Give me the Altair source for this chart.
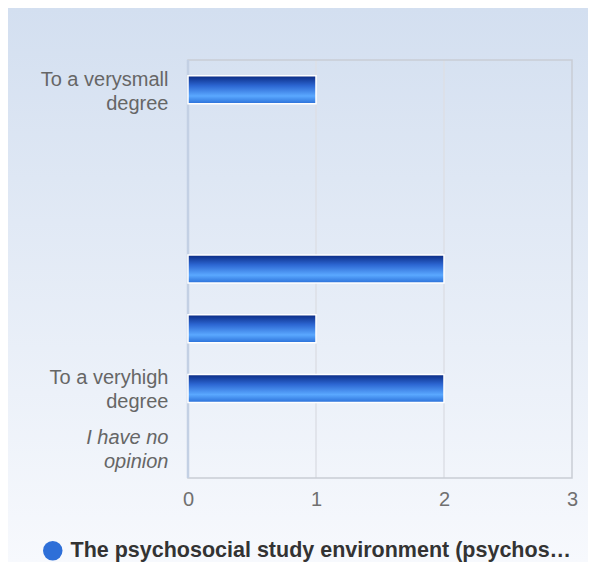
import json
import altair as alt
import pandas as pd

keys = ["1", "2", "3", "4", "5", "6", "7"]
labels = ["To a verysmall|degree", "", "", "", "", "To a veryhigh|degree", "I have no|opinion"]
values = [1, 0, 0, 2, 1, 2, 0]
series_name = "The psychosocial study environment (psychos\u2026"
x_ticks = [0, 1, 2, 3]

df = pd.DataFrame({"key": keys, "label": labels, "value": values, "series": [series_name] * len(keys)})
grid_df = pd.DataFrame({"tick": x_ticks[1:-1]})
one = pd.DataFrame({"k": [0]})

W, H = 384, 418

label_expr = "split(" + json.dumps(labels) + "[toNumber(datum.value) - 1], '|')"

x_scale = alt.Scale(domain=[0, 3], nice=False)

background = alt.Chart(one).mark_rect(
    clip=False,
    fill=alt.Gradient(
        gradient="linear", x1=0, y1=0, x2=0, y2=1,
        stops=[alt.GradientStop(offset=0, color="#d3dff0"),
               alt.GradientStop(offset=1, color="#f7f9fd")],
    ),
).encode(
    x=alt.value(-180), x2=alt.value(W + 16),
    y=alt.value(-52), y2=alt.value(H + 84),
)

grid = alt.Chart(grid_df).mark_rule(color="#dcdfe6", strokeWidth=1.5).encode(
    x=alt.X("tick:Q", scale=x_scale),
)

border = alt.Chart(one).mark_rect(fill=None, stroke="#c9cdd5", strokeWidth=1.5).encode(
    x=alt.value(0), x2=alt.value(W), y=alt.value(0), y2=alt.value(H),
)
left_edge = alt.Chart(one).mark_rule(color="#c3d0e4", strokeWidth=2.5).encode(
    x=alt.value(0), y=alt.value(0), y2=alt.value(H),
)

y_enc = alt.Y(
    "key:N",
    sort=keys,
    scale=alt.Scale(domain=keys, paddingInner=0, paddingOuter=0),
    axis=alt.Axis(
        title=None, ticks=False, domain=False, grid=False, zindex=1,
        labelExpr=label_expr,
        labelFont="Liberation Sans", labelFontSize=20, labelColor="#666666",
        labelPadding=20, labelLineHeight=24, labelOffset=-10, minExtent=175,
        labelFontStyle={"condition": {"test": "datum.value == '7'", "value": "italic"}, "value": "normal"},
        labelLimit=300,
    ),
)

x_enc = alt.X(
    "value:Q",
    scale=x_scale,
    axis=alt.Axis(
        title=None, values=x_ticks, format="d", ticks=False, domain=False, grid=False, zindex=1,
        labelFont="Liberation Sans", labelFontSize=20, labelColor="#707070",
        labelPadding=11, labelFlush=False,
    ),
)

bars = alt.Chart(df).transform_filter("datum.value > 0").mark_bar(
    size=28,
    fill=alt.Gradient(
        gradient="linear", x1=0, y1=0, x2=0, y2=1,
        stops=[alt.GradientStop(offset=0, color="#0a2a82"),
               alt.GradientStop(offset=0.35, color="#2c66d2"),
               alt.GradientStop(offset=0.72, color="#5aa8ff"),
               alt.GradientStop(offset=1, color="#2a6fd8")],
    ),
    stroke="white", strokeWidth=1.5,
).encode(x=x_enc, y=y_enc)

legend_layer = alt.Chart(df).mark_point(filled=True, opacity=0).encode(
    x=alt.X("value:Q", scale=x_scale),
    y=alt.Y("key:N", sort=keys),
    color=alt.Color(
        "series:N",
        scale=alt.Scale(range=["#2e6fd8"]),
        legend=alt.Legend(
            title=None, orient="none", legendX=-146, legendY=480, zindex=1,
            symbolType="circle", symbolSize=380, symbolOpacity=1,
            symbolStrokeWidth=0,
            labelFont="Liberation Sans", labelFontSize=21.5, labelFontWeight="bold",
            labelColor="#333333", labelLimit=600, labelOffset=7,
        ),
    ),
)

chart = alt.layer(background, grid, border, left_edge, bars, legend_layer).properties(
    width=W, height=H, padding=0,
).configure_view(stroke=None).configure(background="transparent")

chart.save("out.html", embed_options={"renderer": "svg", "actions": False})
